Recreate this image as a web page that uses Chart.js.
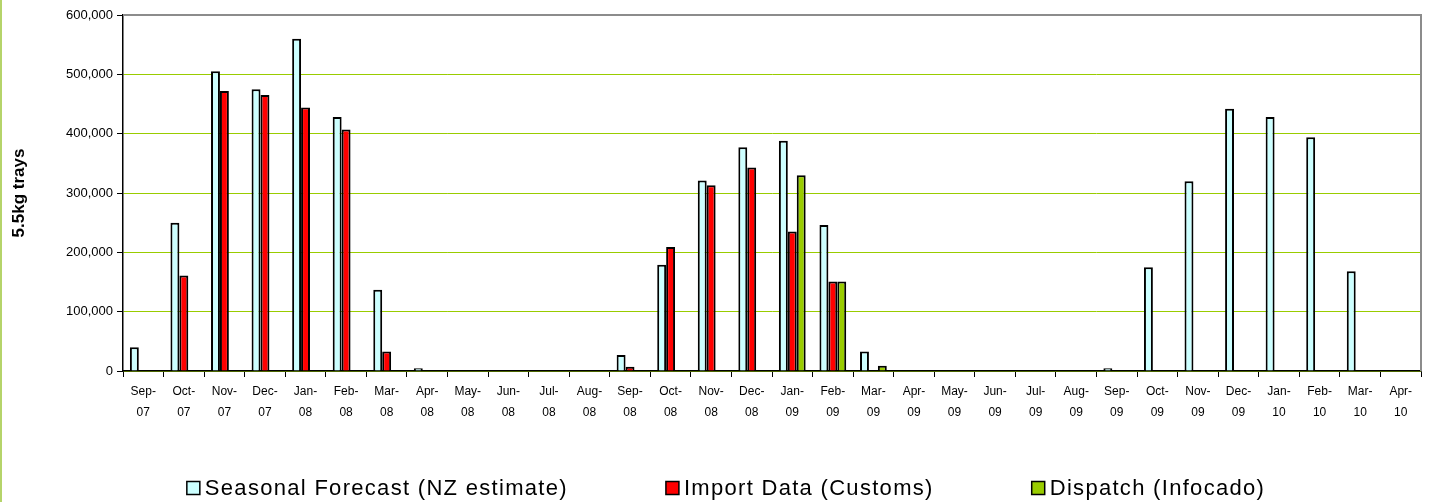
<!DOCTYPE html>
<html>
<head>
<meta charset="utf-8">
<script src="https://cdn.jsdelivr.net/npm/chart.js@4"></script>
<style>
  html, body { margin: 0; padding: 0; background: #fff; }
  #wrap { position: relative; width: 1435px; height: 502px; }
  #edge { position: absolute; left: 0; top: 0; width: 2px; height: 502px; background: #b5d46a; }
</style>
</head>
<body>
<div id="wrap">
  <canvas id="chart" width="1435" height="502"></canvas>
  <div id="edge"></div>
</div>
<script>
// months, shown on two lines like the original
const months = [
  ['Sep-', '07'], ['Oct-', '07'], ['Nov-', '07'], ['Dec-', '07'], ['Jan-', '08'], ['Feb-', '08'],
  ['Mar-', '08'], ['Apr-', '08'], ['May-', '08'], ['Jun-', '08'], ['Jul-', '08'], ['Aug-', '08'],
  ['Sep-', '08'], ['Oct-', '08'], ['Nov-', '08'], ['Dec-', '08'], ['Jan-', '09'], ['Feb-', '09'],
  ['Mar-', '09'], ['Apr-', '09'], ['May-', '09'], ['Jun-', '09'], ['Jul-', '09'], ['Aug-', '09'],
  ['Sep-', '09'], ['Oct-', '09'], ['Nov-', '09'], ['Dec-', '09'], ['Jan-', '10'], ['Feb-', '10'],
  ['Mar-', '10'], ['Apr-', '10']
];

const forecast = [40000, 250000, 505000, 475000, 560000, 428000, 137000, 4500, null, null, null, null,
  27000, 179000, 321000, 377000, 388000, 246000, 33000, null, null, null, null, null,
  4500, 175000, 320000, 442000, 428000, 394000, 168000, null];

const imports = [null, 161000, 472000, 465000, 444000, 407000, 33000, null, null, null, null, null,
  7000, 209000, 313000, 343000, 235000, 151000, null, null, null, null, null, null,
  null, null, null, null, null, null, null, null];

const dispatch = [null, null, null, null, null, null, null, null, null, null, null, null,
  null, null, null, null, 330000, 151000, 9000, null, null, null, null, null,
  null, null, null, null, null, null, null, null];

const yTicks = [0, 100000, 200000, 300000, 400000, 500000, 600000];

const font = 'Liberation Sans, Arial, sans-serif';

// grey top and right edges of the plot area
const frame = {
  id: 'frame',
  afterDraw(chart) {
    const { ctx, chartArea: a } = chart;
    ctx.save();
    ctx.strokeStyle = '#8c8c8c';
    ctx.lineWidth = 2;
    ctx.beginPath();
    ctx.moveTo(a.left, a.top);
    ctx.lineTo(a.right, a.top);
    ctx.lineTo(a.right, a.bottom);
    ctx.stroke();
    ctx.restore();
  }
};

// legend laid out like the Excel one: wide gaps between entries
const wideLegend = {
  id: 'wideLegend',
  afterDraw(chart) {
    const ctx = chart.ctx;
    const sets = chart.data.datasets;
    const box = 13, gapText = 5, gapItem = 98, cy = 488, centre = 726;
    ctx.save();
    ctx.font = '22px ' + font;
    if ('letterSpacing' in ctx) ctx.letterSpacing = '1.3px';
    ctx.textBaseline = 'middle';
    ctx.textAlign = 'left';
    const widths = sets.map(d => ctx.measureText(d.label).width);
    let total = 0;
    widths.forEach((w, i) => { total += box + gapText + w + (i < widths.length - 1 ? gapItem : 0); });
    let x = centre - total / 2;
    sets.forEach((d, i) => {
      ctx.fillStyle = d.backgroundColor;
      ctx.fillRect(x, cy - box / 2, box, box);
      ctx.strokeStyle = '#000';
      ctx.lineWidth = 1.5;
      ctx.strokeRect(x, cy - box / 2, box, box);
      ctx.fillStyle = '#000';
      ctx.fillText(d.label, x + box + gapText, cy + 1);
      x += box + gapText + widths[i] + gapItem;
    });
    ctx.restore();
  }
};

new Chart(document.getElementById('chart'), {
  type: 'bar',
  data: {
    labels: months,
    datasets: [
      { label: 'Seasonal Forecast (NZ estimate)', data: forecast, backgroundColor: '#ccffff', borderColor: '#000', borderWidth: 2 },
      { label: 'Import Data (Customs)', data: imports, backgroundColor: '#ff0000', borderColor: '#000', borderWidth: 2 },
      { label: 'Dispatch (Infocado)', data: dispatch, backgroundColor: '#99cc00', borderColor: '#000', borderWidth: 2 }
    ]
  },
  options: {
    responsive: false,
    animation: false,
    layout: { padding: { top: 15, right: 14, left: 0, bottom: 0 } },
    datasets: { bar: { categoryPercentage: 0.66, barPercentage: 1 } },
    plugins: {
      tooltip: { enabled: false },
      legend: { display: false }
    },
    scales: {
      x: {
        grid: { drawOnChartArea: false, tickLength: 6, tickColor: '#000', tickWidth: 1 },
        border: { color: '#000', width: 1.5 },
        ticks: {
          autoSkip: false,
          maxRotation: 0,
          minRotation: 0,
          color: '#000',
          padding: 4,
          font: { family: font, size: 12, lineHeight: 1.75 }
        },
        afterFit(scale) { scale.height = 131; }
      },
      y: {
        min: 0,
        max: 600000,
        afterBuildTicks(scale) { scale.ticks = yTicks.map(v => ({ value: v })); },
        grid: { color: '#99cc00', lineWidth: 1, tickLength: 6, tickColor: '#000' },
        border: { color: '#000', width: 1.5 },
        ticks: {
          color: '#000',
          padding: 4,
          font: { family: font, size: 13 },
          callback: v => v.toLocaleString('en-US')
        },
        title: {
          display: true,
          text: '5.5kg trays',
          color: '#000',
          padding: { top: 9, bottom: 0 },
          font: { family: font, size: 17, weight: 'bold' }
        },
        afterFit(scale) { scale.width = 123; }
      }
    }
  },
  plugins: [frame, wideLegend]
});
</script>
</body>
</html>
